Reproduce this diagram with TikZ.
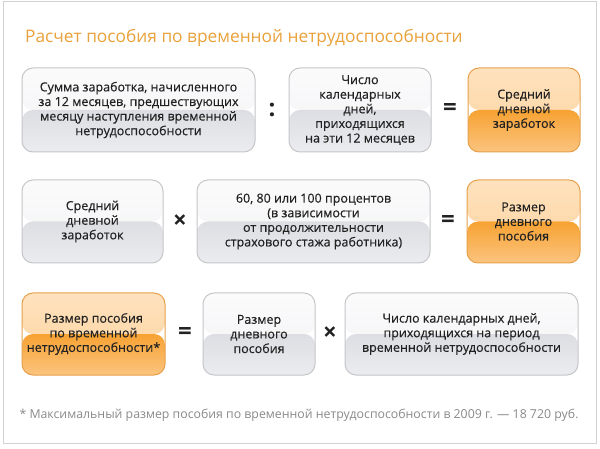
\documentclass[tikz,border=0pt]{standalone}
\usepackage{fontspec}
\setmainfont{Open Sans}
\newfontfamily\boxfont{Open Sans}[FakeBold=0.35]
\definecolor{titleor}{HTML}{E9A23B}
\definecolor{txt}{HTML}{222222}
\definecolor{foot}{HTML}{8A8A8A}
\definecolor{gborder}{HTML}{C6C6CA}
\definecolor{gtopA}{HTML}{FBFBFC}
\definecolor{gtopB}{HTML}{F2F2F4}
\definecolor{gbotA}{HTML}{DCDEE3}
\definecolor{gbotB}{HTML}{EBECEF}
\definecolor{oborder}{HTML}{E6A04C}
\definecolor{otopA}{HTML}{FEE2BE}
\definecolor{otopB}{HTML}{FDD29C}
\definecolor{obotA}{HTML}{F7A232}
\definecolor{obotB}{HTML}{FBC47F}
\definecolor{frame}{HTML}{D2D2D6}
\tikzset{
  box/.style={draw=gborder, line width=1pt, rounded corners=11pt, align=center,
    text=txt, font=\boxfont\fontsize{12.5}{14.6}\selectfont, inner sep=2pt,
    path picture={
      \shade[top color=gtopA, bottom color=gtopB]
        (path picture bounding box.north west) rectangle (path picture bounding box.east);
      \shade[top color=gbotA, bottom color=gbotB]
        (path picture bounding box.west) rectangle (path picture bounding box.south east);
    }},
  obox/.style={draw=oborder, line width=1pt, rounded corners=11pt, align=center,
    text=txt, font=\boxfont\fontsize{12.5}{14.6}\selectfont, inner sep=2pt,
    path picture={
      \shade[top color=otopA, bottom color=otopB]
        (path picture bounding box.north west) rectangle (path picture bounding box.east);
      \shade[top color=obotA, bottom color=obotB]
        (path picture bounding box.west) rectangle (path picture bounding box.south east);
    }},
  op/.style={font=\fontsize{24}{24}\bfseries\selectfont, text=txt, inner sep=0pt},
}
\begin{document}
\begin{tikzpicture}[x=1pt,y=1pt]
\useasboundingbox (0,0) rectangle (600,-449);
\fill[white] (0,0) rectangle (600,-449);
\draw[frame, line width=0.8pt] (3,-1.5) rectangle (596,-443);

\node[anchor=base west, text=titleor, font=\fontsize{17.3}{20}\selectfont, inner sep=0pt] (title) at (25,-43)
  {Расчет пособия по временной нетрудоспособности};

% row 1
\node[box, minimum width=233pt, minimum height=84pt] (A) at (138.5,-110)
  {Сумма заработка, начисленного\\за 12 месяцев, предшествующих\\месяцу наступления временной\\нетрудоспособности};
\node[op] (c1) at (272,-110) {:};
\node[box, minimum width=142pt, minimum height=84pt] (B) at (360,-110)
  {Число\\календарных\\дней,\\приходящихся\\на эти 12 месяцев};
\node[op] (e1) at (450,-110) {=};
\node[obox, minimum width=112pt, minimum height=84pt] (C) at (524,-110)
  {Средний\\дневной\\заработок};

% row 2
\node[box, minimum width=141pt, minimum height=83pt] (D) at (92.5,-221.5)
  {Средний\\дневной\\заработок};
\node[op] (x1) at (180,-222) {×};
\node[box, minimum width=233pt, minimum height=83pt] (E) at (313.5,-221.5)
  {60, 80 или 100 процентов\\(в зависимости\\от продолжительности\\страхового стажа работника)};
\node[op] (e2) at (448,-222) {=};
\node[obox, minimum width=113pt, minimum height=83pt] (F) at (523.5,-221.5)
  {Размер\\дневного\\пособия};

% row 3
\node[obox, minimum width=143pt, minimum height=82pt] (G) at (93.5,-334)
  {Размер пособия\\по временной\\нетрудоспособности*};
\node[op] (e3) at (185,-333) {=};
\node[box, minimum width=112pt, minimum height=82pt] (H) at (259,-334)
  {Размер\\дневного\\пособия};
\node[op] (x2) at (330,-334) {×};
\node[box, minimum width=233pt, minimum height=82pt] (I) at (461.5,-334)
  {Число календарных дней,\\приходящихся на период\\временной нетрудоспособности};

\node[anchor=base, text=foot, font=\fontsize{12.3}{15}\selectfont, inner sep=0pt] (fn) at (299,-418)
  {* Максимальный размер пособия по временной нетрудоспособности в 2009 г. — 18 720 руб.};
\end{tikzpicture}
\end{document}
